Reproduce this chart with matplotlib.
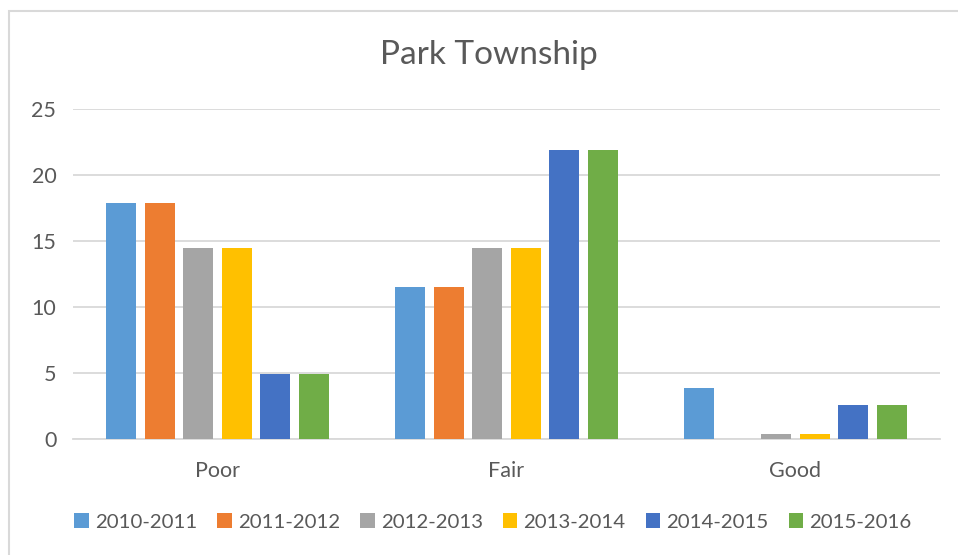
import matplotlib
matplotlib.use("Agg")
import matplotlib.pyplot as plt
import numpy as np
from matplotlib.patches import Rectangle

categories = ["Poor", "Fair", "Good"]
series_names = ["2010-2011", "2011-2012", "2012-2013", "2013-2014", "2014-2015", "2015-2016"]
v_2010 = [17.9, 11.5, 3.9]
v_2011 = [17.9, 11.5, 0.0]
v_2012 = [14.5, 14.5, 0.4]
v_2013 = [14.5, 14.5, 0.4]
v_2014 = [4.9, 21.9, 2.6]
v_2015 = [4.9, 21.9, 2.6]
series_values = [v_2010, v_2011, v_2012, v_2013, v_2014, v_2015]
colors = ["#5B9BD5", "#ED7D31", "#A5A5A5", "#FFC000", "#4472C4", "#70AD47"]
yticks = [0, 5, 10, 15, 20, 25]

plt.rcParams['font.family'] = ['Lato', 'DejaVu Sans']
txt = "#595959"

fig = plt.figure(figsize=(9.58, 5.55), dpi=100)
W, H = 958, 555
fig.patches.append(Rectangle((9 / W, -0.1), 1.2, 1 - 11 / H + 0.1, transform=fig.transFigure,
                             fill=False, edgecolor="#D9D9D9", linewidth=1.5))

ax = fig.add_axes([73 / W, 1 - 439 / H, (940 - 73) / W, (439 - 109) / H])
x = np.arange(len(categories))
step = 38.5 / 289
bw = 30 / 289
for i, (name, vals, c) in enumerate(zip(series_names, series_values, colors)):
    ax.bar(x + (i - 2.5) * step, vals, width=bw, color=c, label=name, zorder=3, linewidth=0)

ax.set_xlim(-0.5, 2.5)
ax.set_ylim(0, 25)
ax.set_yticks(yticks)
ax.set_xticks(x)
ax.set_xticklabels(categories)
ax.yaxis.grid(True, color="#D9D9D9", linewidth=1.3, zorder=0)
ax.set_axisbelow(True)
for s in ["top", "right", "left"]:
    ax.spines[s].set_visible(False)
ax.spines["bottom"].set_color("#D9D9D9")
ax.spines["bottom"].set_linewidth(1.3)
ax.tick_params(axis="both", length=0, labelsize=15.5, colors=txt)
ax.tick_params(axis="y", pad=12)
ax.tick_params(axis="x", pad=16)

fig.text(489 / W, 1 - 55 / H, "Park Township", ha="center", va="center", fontsize=24, color=txt)

handles, labels = ax.get_legend_handles_labels()
leg = fig.legend(handles, labels, loc="center", bbox_to_anchor=(493 / W, 1 - 522 / H), ncol=6,
                 frameon=False, fontsize=14.7, handlelength=0.7, handleheight=0.7,
                 handletextpad=0.3, columnspacing=1.0, labelcolor=txt)

fig.savefig("out.png", dpi=100)
